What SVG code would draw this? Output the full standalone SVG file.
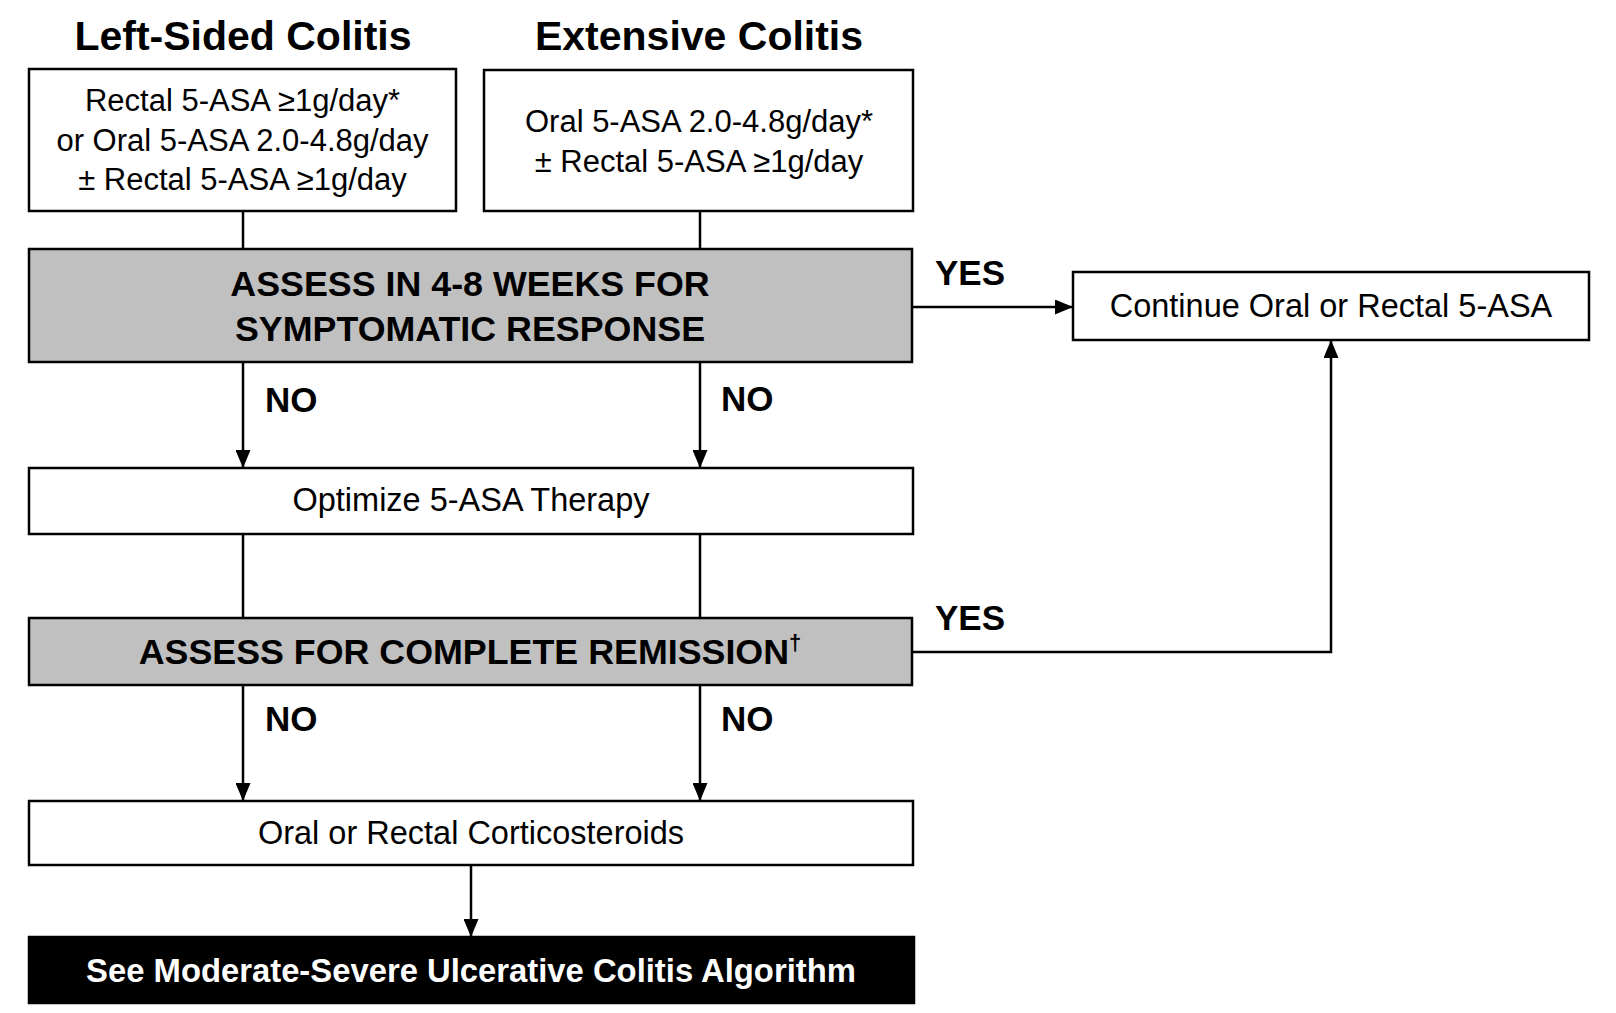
<svg xmlns="http://www.w3.org/2000/svg" width="1616" height="1013" viewBox="0 0 1616 1013">
<style>
.box{fill:#ffffff;stroke:#000000;stroke-width:2.5}
.gray{fill:#c0c0c0;stroke:#000000;stroke-width:2.5}
.dark{fill:#000000;stroke:#000000;stroke-width:2.5}
.conn{fill:none;stroke:#000000;stroke-width:2.5}
.title{font-family:"Liberation Sans",Arial,sans-serif;font-weight:bold;font-size:41px;fill:#000;text-anchor:middle}
.body{font-family:"Liberation Sans",Arial,sans-serif;font-size:31px;fill:#000;text-anchor:middle}
.single{font-family:"Liberation Sans",Arial,sans-serif;font-size:32.5px;fill:#000;text-anchor:middle}
.bold{font-family:"Liberation Sans",Arial,sans-serif;font-weight:bold;font-size:35.8px;fill:#000;text-anchor:middle}
.lbl{font-family:"Liberation Sans",Arial,sans-serif;font-weight:bold;font-size:35px;fill:#000}
.white{font-family:"Liberation Sans",Arial,sans-serif;font-weight:bold;font-size:32.8px;fill:#fff;text-anchor:middle}
</style>
<defs>
<marker id="arr" markerUnits="userSpaceOnUse" markerWidth="18" markerHeight="15" refX="18" refY="7.5" orient="auto">
<path d="M0,0 L18,7.5 L0,15 z" fill="#000"/>
</marker>
</defs>
<rect width="1616" height="1013" fill="#ffffff"/>
<g id="connectors">
<line class="conn" x1="243" y1="211" x2="243" y2="249"/>
<line class="conn" x1="700" y1="211" x2="700" y2="249"/>
<line class="conn" x1="912" y1="307" x2="1073" y2="307" marker-end="url(#arr)"/>
<line class="conn" x1="243" y1="362" x2="243" y2="468" marker-end="url(#arr)"/>
<line class="conn" x1="700" y1="362" x2="700" y2="468" marker-end="url(#arr)"/>
<line class="conn" x1="243" y1="534" x2="243" y2="618"/>
<line class="conn" x1="700" y1="534" x2="700" y2="618"/>
<polyline class="conn" points="912,652 1331,652 1331,340" marker-end="url(#arr)"/>
<line class="conn" x1="243" y1="685" x2="243" y2="801" marker-end="url(#arr)"/>
<line class="conn" x1="700" y1="685" x2="700" y2="801" marker-end="url(#arr)"/>
<line class="conn" x1="471" y1="865" x2="471" y2="937" marker-end="url(#arr)"/>
<text class="lbl" x="935" y="285">YES</text>
<text class="lbl" x="935" y="630">YES</text>
<text class="lbl" x="265" y="412">NO</text>
<text class="lbl" x="721" y="411">NO</text>
<text class="lbl" x="265" y="731">NO</text>
<text class="lbl" x="721" y="731">NO</text>
</g>
<g id="title-left"><text class="title" x="243" y="50">Left-Sided Colitis</text></g>
<g id="title-right"><text class="title" x="699" y="50">Extensive Colitis</text></g>
<g id="left-box">
<rect class="box" x="29" y="69" width="427" height="142"/>
<text class="body" x="242.5" y="111">Rectal 5-ASA ≥1g/day*</text>
<text class="body" x="242.5" y="151">or Oral 5-ASA 2.0-4.8g/day</text>
<text class="body" x="242.5" y="190">± Rectal 5-ASA ≥1g/day</text>
</g>
<g id="right-box">
<rect class="box" x="484" y="70" width="429" height="141"/>
<text class="body" x="699" y="132">Oral 5-ASA 2.0-4.8g/day*</text>
<text class="body" x="699" y="172">± Rectal 5-ASA ≥1g/day</text>
</g>
<g id="assess-response">
<rect class="gray" x="29" y="249" width="883" height="113"/>
<text class="bold" x="470" y="296">ASSESS IN 4-8 WEEKS FOR</text>
<text class="bold" x="470" y="341">SYMPTOMATIC RESPONSE</text>
</g>
<g id="continue">
<rect class="box" x="1073" y="272" width="516" height="68"/>
<text class="single" x="1331" y="317">Continue  Oral or Rectal 5-ASA</text>
</g>
<g id="optimize">
<rect class="box" x="29" y="468" width="884" height="66"/>
<text class="single" x="471" y="511">Optimize  5-ASA Therapy</text>
</g>
<g id="assess-remission">
<rect class="gray" x="29" y="618" width="883" height="67"/>
<text class="bold" x="470" y="664">ASSESS FOR COMPLETE REMISSION<tspan font-size="22" dy="-14">†</tspan></text>
</g>
<g id="corticosteroids">
<rect class="box" x="29" y="801" width="884" height="64"/>
<text class="single" x="471" y="844">Oral or Rectal Corticosteroids</text>
</g>
<g id="moderate-severe">
<rect class="dark" x="29" y="937" width="885" height="66"/>
<text class="white" x="471" y="982">See Moderate-Severe Ulcerative Colitis Algorithm</text>
</g>
</svg>
